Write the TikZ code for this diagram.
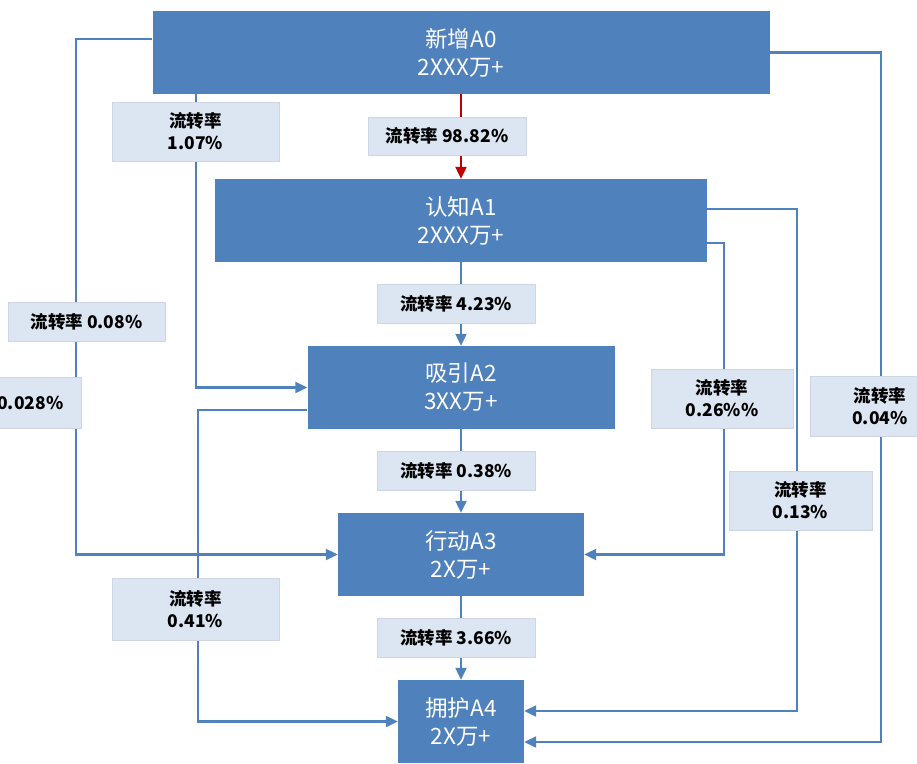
\documentclass[tikz,border=0pt]{standalone}
\usepackage{fontspec}
\setmainfont{Noto Sans CJK SC}
\usepackage{tikz}
\usetikzlibrary{arrows.meta,positioning}
\definecolor{stageblue}{HTML}{4F81BD}
\definecolor{rateback}{HTML}{DCE6F2}
\definecolor{rateedge}{HTML}{CDD6E2}
\definecolor{mainred}{HTML}{C00000}

\begin{document}
\begin{tikzpicture}[
        x=1pt, y=-1pt,
        stage/.style={fill=stageblue, text=white, align=center, inner sep=0pt,
                      minimum height=83pt, font=\fontsize{22.5}{28}\selectfont},
        rate/.style={fill=rateback, draw=rateedge, line width=0.6pt, align=center,
                     inner sep=0pt, font=\bfseries\fontsize{17.5}{22}\selectfont},
        flow/.style={-{Triangle[length=12pt, width=11pt]}, draw=stageblue, line width=2.2pt},
        hot/.style={-{Triangle[length=12pt, width=11pt]}, draw=mainred, line width=2.2pt}
    ]
        \useasboundingbox (0,0) rectangle (917,763);

        \node[stage, minimum width=617pt] (new-a0) at (461,52.5) {新增A0\\2XXX万+};
        \node[stage, minimum width=492pt] (know-a1) at (461,220.5) {认知A1\\2XXX万+};
        \node[stage, minimum width=307pt] (draw-a2) at (461,387.5) {吸引A2\\3XX万+};
        \node[stage, minimum width=246pt] (act-a3) at (461,554.5) {行动A3\\2X万+};
        \node[stage, minimum width=126pt] (back-a4) at (461,721.5) {拥护A4\\2X万+};

        \draw[hot] (new-a0) -- (know-a1);
        \draw[flow] (know-a1) -- (draw-a2);
        \draw[flow] (draw-a2) -- (act-a3);
        \draw[flow] (act-a3) -- (back-a4);

        \draw[flow] ([xshift=44pt]new-a0.south west) |- (draw-a2.west);
        \draw[flow] ([yshift=13.5pt]new-a0.west) -- ++(-76,0) |- (act-a3.west);
        \draw[flow] ([yshift=-22.5pt]draw-a2.west) -- ++(-109,0) |- (back-a4.west);
        \draw[flow] ([yshift=-22.5pt]know-a1.east) -- ++(17,0) |- (act-a3.east);
        \draw[flow] ([yshift=11.5pt]know-a1.east) -- ++(90,0) |- ([yshift=10.5pt]back-a4.east);
        \draw[flow] (new-a0.east) -- ++(111,0) |- ([yshift=-20.5pt]back-a4.east);

        \node[rate, minimum width=158pt, minimum height=38pt] (rate-01) at (447,136) {流转率 98.82\%};
        \node[rate, minimum width=158pt, minimum height=39pt] (rate-12) at (456,303.5) {流转率 4.23\%};
        \node[rate, minimum width=158pt, minimum height=39pt] (rate-23) at (456,470.5) {流转率 0.38\%};
        \node[rate, minimum width=158pt, minimum height=39pt] (rate-34) at (456,637.5) {流转率 3.66\%};
        \node[rate, minimum width=167pt, minimum height=59pt] (rate-02) at (195.5,131.5) {流转率\\1.07\%};
        \node[rate, minimum width=157pt, minimum height=39pt] (rate-03) at (86.5,321.5) {流转率 0.08\%};
        \node[rate, minimum width=158pt, minimum height=51pt] (rate-03b) at (2,402.5) {流转率 0.028\%};
        \node[rate, minimum width=167pt, minimum height=62pt] (rate-24) at (195.5,609) {流转率\\0.41\%};
        \node[rate, minimum width=142pt, minimum height=59pt] (rate-13) at (722,398.5) {流转率\\0.26\%\%};
        \node[rate, minimum width=143pt, minimum height=59pt] (rate-14) at (800.5,500.5) {流转率\\0.13\%};
        \node[rate, minimum width=140pt, minimum height=60pt] (rate-04) at (880,406) {流转率\\0.04\%};
    \end{tikzpicture}
\end{document}
